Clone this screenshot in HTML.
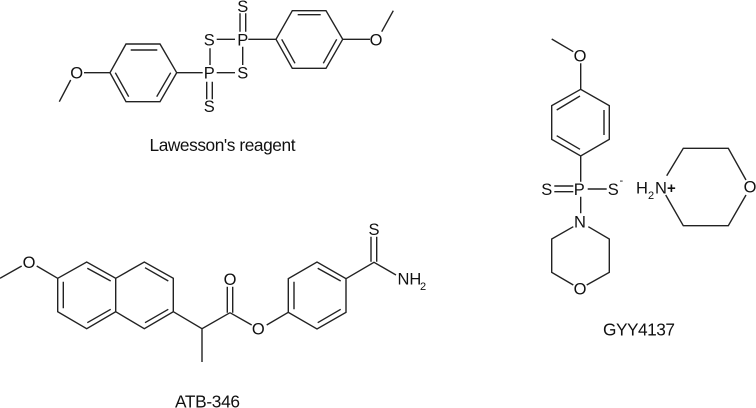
<!DOCTYPE html>
<html><head><meta charset="utf-8"><style>
html,body{margin:0;padding:0;background:#fff;width:756px;height:408px;overflow:hidden}
svg{display:block}
text{font-family:"Liberation Sans",sans-serif;font-size:16.5px;fill:#111}
.a{text-anchor:middle}
.l{font-size:17.3px}
path{fill:none;stroke:#222;stroke-width:1.4}
</style></head><body>
<svg width="756" height="408" viewBox="0 0 756 408" xmlns="http://www.w3.org/2000/svg">
<path d="M276 39.3L292.3 10.7H326L342.7 39.3L326 68.3H292.3ZM297.7 14.7H320.7M281.7 39.3L295 63.3M336.7 39.3L323.3 63.3M342.7 39.3H370M381.7 31.7L393.3 10.7"/>
<path d="M216.7 39.3H235M248.3 39.3H276M242.7 46.7V65M210 48.3V65M216.7 72.7H235M240 13.3V31.7M245.7 13.3V31.7M206.7 81.7V99.3M212.3 81.7V99.3"/>
<path d="M110 72.7L126 44H160L176.7 72.7L160 101.7H126ZM130.7 50H157.3M115.3 72.7L128.7 96.7M170.7 72.7L156.7 96.7M84 72.7H110M70.7 80L59.3 101.7M176.7 72.7H202.7"/>
<text class="a" x="376" y="45.3">O</text><text class="a" x="242.7" y="45.3">P</text><text class="a" x="209.3" y="45.3">S</text>
<text class="a" x="242.7" y="78.7">S</text><text class="a" x="209.3" y="78.7">P</text><text class="a" x="242.7" y="12">S</text>
<text class="a" x="209.3" y="112">S</text><text class="a" x="76.7" y="78.7">O</text>
<text class="l" x="149.5" y="151" textLength="146">Lawesson's reagent</text>

<path d="M57.7 278.3L86.7 262L115.7 278.3V311.7L86.7 328.7L57.7 311.7ZM115.7 278.3L144.3 262L173.3 278.3V311.7L144.3 328.7L115.7 311.7M63.3 281.7V308.3M87.3 268.3L110.7 281M87.3 322.7L110.7 309.3M145 267.7L168.3 281M145 322.7L168.3 309.3"/>
<path d="M36.7 266L57.7 278.3M21.7 266L0 278.3M173.3 311.7L202 328.7L230 312.7M202 328.7V362M227.3 286.7V312.7M232.7 286.7V312.7M230 312.7L251.7 325M266.7 325L288.3 312.3"/>
<path d="M288.3 312.3V278.7L317 262L346 278.7V312.3L317 329ZM294 281.7V309.3M317.7 268.3L340.7 281M317.7 322.7L340.7 309.3M346 278.7L374 262.3L396 275M371 236.7V261.7M376.7 236.7V261.7"/>
<text class="a" x="29" y="268">O</text><text class="a" x="230" y="285">O</text><text class="a" x="258.3" y="334.3">O</text><text class="a" x="374" y="235">S</text>
<text x="397.5" y="284.5">NH</text><text x="420" y="290" style="font-size:11px">2</text>
<text class="l" x="175" y="407.5" textLength="65">ATB-346</text>

<path d="M551.7 39L573.3 51.7M580.7 63.3V89.3L609.3 105.7V139.3L580.7 156L551.7 139.3V105.7L580.7 89.3M556.7 110L580 96M604 110V135M556.7 135.7L580 149.3M580.7 156V181.7"/>
<path d="M554.3 186H573.3M554.3 191.7H573.3M587.7 189H606.7M580.7 196.7V213.3M588.3 226.7L609.3 239V272.3L586.7 285M573.3 285L551.7 272.3V239L573.3 226.7"/>
<path d="M666.7 175.7L683.3 148.3H728.3L746 180M746 195L728.3 225.7H683.3L665.7 195"/>
<text class="a" x="580" y="61.7">O</text><text class="a" x="546.7" y="195">S</text><text class="a" x="579.3" y="195">P</text><text class="a" x="613.3" y="195">S</text>
<text x="619.5" y="184" style="font-size:11px">-</text>
<text class="a" x="580" y="227.7">N</text><text class="a" x="580" y="294.3">O</text>
<text x="636" y="193.5">H</text><text x="648" y="199" style="font-size:11px">2</text><text x="655" y="193.5">N</text><text x="667" y="193" style="font-size:15px;font-weight:bold">+</text>
<text class="a" x="750" y="192.7">O</text>
<text class="l" x="603" y="335.7" textLength="72">GYY4137</text>
</svg>
</body></html>
